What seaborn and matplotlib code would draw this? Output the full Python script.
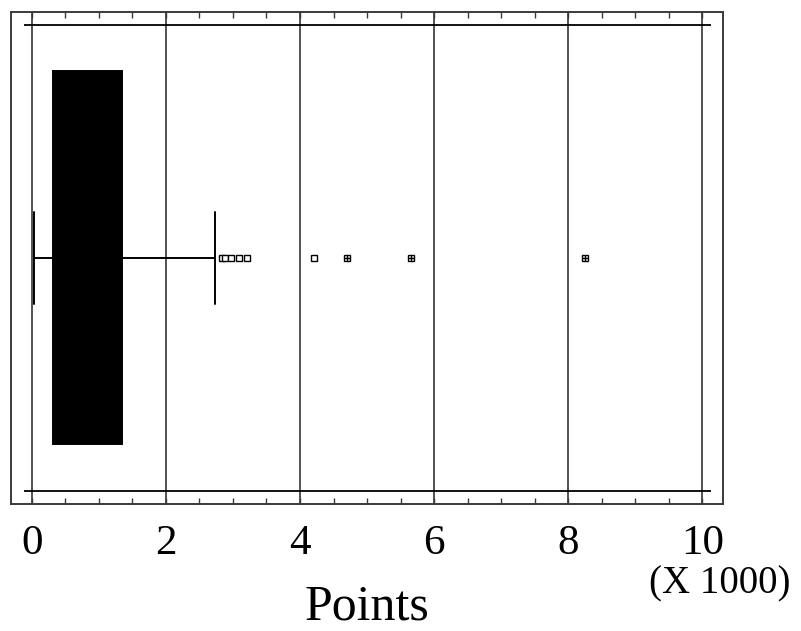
import numpy as np
import pandas as pd
import matplotlib
matplotlib.use("Agg")
import matplotlib.pyplot as plt
from matplotlib.ticker import MultipleLocator
import seaborn as sns

# DONNEES (en milliers de points)
points = [
    0.039, 0.07, 0.10, 0.13, 0.16, 0.18, 0.20, 0.22, 0.24, 0.26, 0.28, 0.30, 0.31,
    0.32,
    0.36, 0.40, 0.44, 0.48, 0.51, 0.55, 0.58, 0.62, 0.65, 0.68, 0.71, 0.74, 0.77,
    0.80, 0.84, 0.87, 0.91, 0.95, 0.99, 1.03, 1.08, 1.13, 1.19, 1.25, 1.31,
    1.35,
    1.62, 1.90, 2.10, 2.73,
    2.83, 2.88, 2.97, 3.09, 3.21, 4.21, 4.70, 5.65, 8.25,
]
tick_values = [0, 2, 4, 6, 8, 10]
tick_labels = ["0", "2", "4", "6", "8", "10"]
axis_label = "Points"
scale_label = "(X 1000)"

df = pd.DataFrame({"Points": points})

sns.set_theme(style="white")
plt.rcParams["font.family"] = ["Liberation Serif", "DejaVu Serif"]

fig = plt.figure(figsize=(8.01, 6.31), dpi=100)
ax = fig.add_axes([11 / 801, 1 - 504 / 631, 712 / 801, 492 / 631])

frame_col = "#3a3a3a"

# boite a moustaches
sns.boxplot(
    data=df, x="Points", ax=ax, whis=1.4, width=0.8,
    color="black", linecolor="black", linewidth=1.4,
    capwidths=0.197,
    boxprops=dict(facecolor="black", edgecolor="black"),
    flierprops=dict(marker="s", markersize=4.5, markerfacecolor="white",
                    markeredgecolor="black", markeredgewidth=1.0),
)

# points tres eloignes (> Q3 + 3 IQR) : carre avec croix
q1, q3 = np.percentile(points, [25, 75])
far = [p for p in points if p > q3 + 3 * (q3 - q1)]
sns.scatterplot(x=far, y=[0] * len(far), marker="+", s=22, color="black",
                linewidth=1.0, ax=ax, zorder=5)

ax.set_xlim(-0.309, 10.306)
ax.set_ylim(0.528, -0.527)

# lignes horizontales internes
ax.hlines([-0.5, 0.5], -0.11, 10.12, color="black", lw=1.3, zorder=1)

ax.set_xticks(tick_values)
ax.set_xticklabels(tick_labels)
ax.xaxis.set_minor_locator(MultipleLocator(0.5))
ax.grid(axis="x", which="major", color="#444444", lw=1.3)
ax.set_axisbelow(True)
ax.tick_params(axis="x", which="both", direction="in", top=True, bottom=True,
               color=frame_col, width=1.0, length=4, labelsize=31, pad=15,
               labelcolor="black")
ax.tick_params(axis="y", left=False, labelleft=False)
ax.set_ylabel("")

for s in ax.spines.values():
    s.set_color(frame_col)
    s.set_linewidth(1.4)
    s.set_visible(True)

ax.set_xlabel(axis_label, fontsize=36, va="baseline", color="black")
ax.xaxis.set_label_coords(0.5, -(620 - 504) / 492)

fig.text(720 / 801, 1 - 593 / 631, scale_label, fontsize=28, ha="center",
         va="baseline", color="black")

plt.savefig("out.png", dpi=100)
plt.close()
